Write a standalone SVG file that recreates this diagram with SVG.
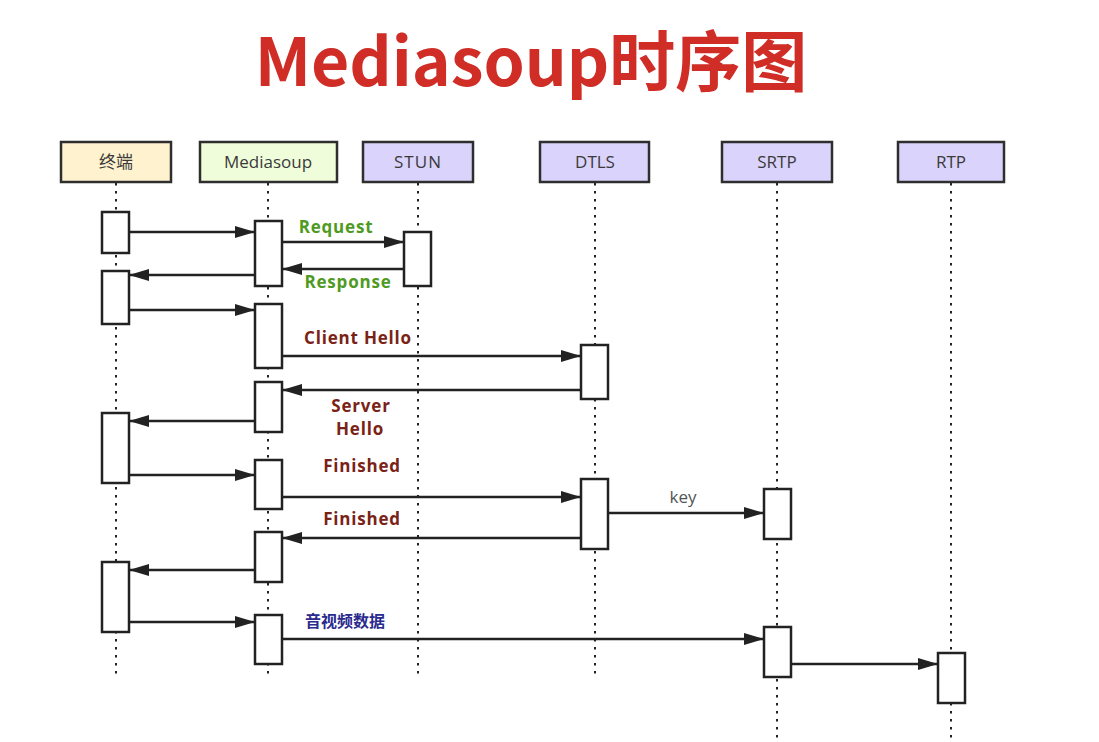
<svg xmlns="http://www.w3.org/2000/svg" width="1099" height="742" viewBox="0 0 1099 742">
<style>
.hd{stroke:#2e2e2e;stroke-width:2.5}
.hdt{font-family:"Open Sans","Noto Sans CJK SC",sans-serif;font-size:17px;fill:#3a3a3a;text-anchor:middle}
.life{stroke:#222;stroke-width:2;stroke-dasharray:2.5 5.5;fill:none}
.act{fill:#fff;stroke:#222;stroke-width:2.5}
.msg{stroke:#222;stroke-width:2.5;fill:none;marker-end:url(#ah)}
.lb{font-family:"Open Sans","Noto Sans CJK SC",sans-serif;font-size:17px;font-weight:bold;letter-spacing:0.8px;text-anchor:middle}
.g{fill:#4e9a22}
.r{fill:#7a2216}
</style>
<defs>
<marker id="ah" viewBox="0 0 20 12" refX="20" refY="6" markerWidth="20" markerHeight="12" markerUnits="userSpaceOnUse" orient="auto">
<path d="M0,0 L20,6 L0,12 z" fill="#222"/>
</marker>
</defs>
<rect width="1099" height="742" fill="#fff"/>
<text x="531" y="86" text-anchor="middle" font-family="'Noto Sans CJK SC','Open Sans',sans-serif" font-weight="bold" font-size="66" fill="#cf2d26">Mediasoup时序图</text>

<g id="lifelines">
<line class="life" x1="116" y1="183" x2="116" y2="678"/>
<line class="life" x1="268" y1="183" x2="268" y2="678"/>
<line class="life" x1="418" y1="183" x2="418" y2="678"/>
<line class="life" x1="595" y1="183" x2="595" y2="678"/>
<line class="life" x1="777" y1="183" x2="777" y2="742"/>
<line class="life" x1="951" y1="183" x2="951" y2="742"/>
</g>

<g id="node-terminal">
<rect class="hd" x="61" y="142" width="110" height="40" fill="#fff2cf"/>
<text class="hdt" x="116" y="168">终端</text>
<rect class="act" x="102" y="212" width="27" height="41"/>
<rect class="act" x="102" y="271" width="27" height="53"/>
<rect class="act" x="102" y="413" width="27" height="70"/>
<rect class="act" x="102" y="562" width="27" height="70"/>
</g>
<g id="node-mediasoup">
<rect class="hd" x="200" y="142" width="137" height="40" fill="#effdda"/>
<text class="hdt" x="268" y="168">Mediasoup</text>
<rect class="act" x="255" y="221" width="27" height="65"/>
<rect class="act" x="255" y="304" width="27" height="64"/>
<rect class="act" x="255" y="382" width="27" height="50"/>
<rect class="act" x="255" y="460" width="27" height="49"/>
<rect class="act" x="255" y="532" width="27" height="50"/>
<rect class="act" x="255" y="615" width="27" height="49"/>
</g>
<g id="node-stun">
<rect class="hd" x="363" y="142" width="110" height="40" fill="#dad3fb"/>
<text class="hdt" x="418" y="168" letter-spacing="1">STUN</text>
<rect class="act" x="404" y="232" width="27" height="54"/>
</g>
<g id="node-dtls">
<rect class="hd" x="540" y="142" width="109" height="40" fill="#dad3fb"/>
<text class="hdt" x="595" y="168">DTLS</text>
<rect class="act" x="581" y="345" width="27" height="54"/>
<rect class="act" x="581" y="479" width="27" height="70"/>
</g>
<g id="node-srtp">
<rect class="hd" x="722" y="142" width="110" height="40" fill="#dad3fb"/>
<text class="hdt" x="777" y="168">SRTP</text>
<rect class="act" x="764" y="489" width="27" height="50"/>
<rect class="act" x="764" y="627" width="27" height="50"/>
</g>
<g id="node-rtp">
<rect class="hd" x="898" y="142" width="106" height="40" fill="#dad3fb"/>
<text class="hdt" x="951" y="168">RTP</text>
<rect class="act" x="938" y="653" width="27" height="50"/>
</g>

<g id="connectors">
<line class="msg" x1="129" y1="232" x2="255" y2="232"/>
<line class="msg" x1="282" y1="242" x2="404" y2="242"/>
<line class="msg" x1="404" y1="269" x2="282" y2="269"/>
<line class="msg" x1="255" y1="275" x2="129" y2="275"/>
<line class="msg" x1="129" y1="310" x2="255" y2="310"/>
<line class="msg" x1="282" y1="356" x2="581" y2="356"/>
<line class="msg" x1="581" y1="390" x2="282" y2="390"/>
<line class="msg" x1="255" y1="421" x2="129" y2="421"/>
<line class="msg" x1="129" y1="475" x2="255" y2="475"/>
<line class="msg" x1="282" y1="497" x2="581" y2="497"/>
<line class="msg" x1="608" y1="513" x2="764" y2="513"/>
<line class="msg" x1="581" y1="538" x2="282" y2="538"/>
<line class="msg" x1="255" y1="570" x2="129" y2="570"/>
<line class="msg" x1="129" y1="622" x2="255" y2="622"/>
<line class="msg" x1="282" y1="639" x2="764" y2="639"/>
<line class="msg" x1="791" y1="664" x2="938" y2="664"/>
</g>

<g id="labels">
<text class="lb g" x="336" y="233">Request</text>
<text class="lb g" x="348" y="288">Response</text>
<text class="lb r" x="358" y="344">Client Hello</text>
<text class="lb r" x="361" y="412" font-size="16">Server</text>
<text class="lb r" x="360" y="435" font-size="16">Hello</text>
<text class="lb r" x="362" y="472">Finished</text>
<text class="lb r" x="362" y="525">Finished</text>
<text x="683" y="503" text-anchor="middle" font-family="'Open Sans',sans-serif" font-size="17" fill="#555">key</text>
<text x="345" y="627" text-anchor="middle" font-family="'Noto Sans CJK SC',sans-serif" font-size="16" font-weight="bold" fill="#2b2a8e">音视频数据</text>
</g>
</svg>
